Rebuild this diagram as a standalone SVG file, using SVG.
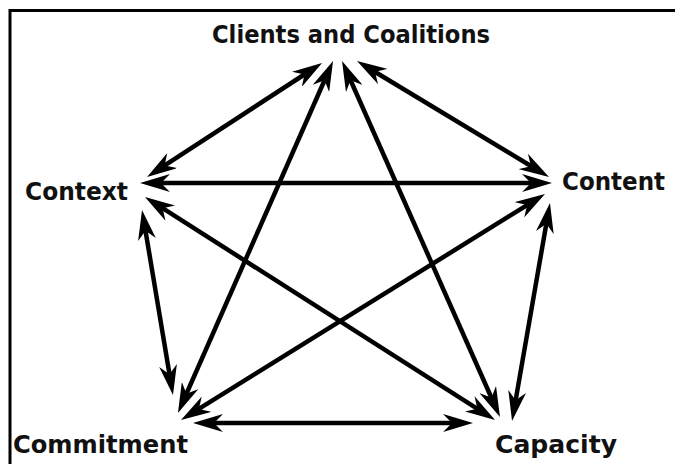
<svg xmlns="http://www.w3.org/2000/svg" width="675" height="464" viewBox="0 0 675 464">
  <style>
    .lbl { font-family: "DejaVu Sans", "Liberation Sans", sans-serif; font-weight: bold; fill: #111; }
    .con { stroke: #000; stroke-width: 4.5; fill: none; marker-start: url(#ah); marker-end: url(#ah); }
  </style>
  <defs>
    <marker id="ah" markerUnits="userSpaceOnUse" viewBox="0 0 30 18" markerWidth="30" markerHeight="18" refX="18" refY="9" orient="auto-start-reverse">
      <path d="M30,9 L0,0 L9,9 L0,18 Z" fill="#000"/>
    </marker>
  </defs>
  <rect x="0" y="0" width="675" height="464" fill="#fff"/>
  <path d="M10,464 V10.5 H675" stroke="#000" stroke-width="3" fill="none"/>
  <g id="connectors">
    <line class="con" x1="312.0" y1="69.5" x2="157.1" y2="170.4"/>
    <line class="con" x1="328.2" y1="72.0" x2="182.8" y2="402.0"/>
    <line class="con" x1="346.9" y1="72.0" x2="495.1" y2="406.0"/>
    <line class="con" x1="367.3" y1="67.2" x2="538.7" y2="170.8"/>
    <line class="con" x1="152" y1="183" x2="540" y2="183"/>
    <line class="con" x1="155.1" y1="203.4" x2="484.9" y2="413.6"/>
    <line class="con" x1="144.0" y1="221.8" x2="171.0" y2="383.2"/>
    <line class="con" x1="534.8" y1="200.3" x2="191.2" y2="413.7"/>
    <line class="con" x1="547.9" y1="214.8" x2="514.1" y2="409.2"/>
    <line class="con" x1="205" y1="423" x2="461" y2="423"/>
  </g>
  <g id="clients"><text class="lbl" x="212" y="43" font-size="24" textLength="278" lengthAdjust="spacingAndGlyphs">Clients and Coalitions</text></g>
  <g id="context"><text class="lbl" x="25" y="200" font-size="25" textLength="103" lengthAdjust="spacingAndGlyphs">Context</text></g>
  <g id="content"><text class="lbl" x="562" y="190" font-size="25" textLength="103" lengthAdjust="spacingAndGlyphs">Content</text></g>
  <g id="commitment"><text class="lbl" x="13" y="453" font-size="25" textLength="175" lengthAdjust="spacingAndGlyphs">Commitment</text></g>
  <g id="capacity"><text class="lbl" x="495" y="453" font-size="25" textLength="122" lengthAdjust="spacingAndGlyphs">Capacity</text></g>
</svg>
